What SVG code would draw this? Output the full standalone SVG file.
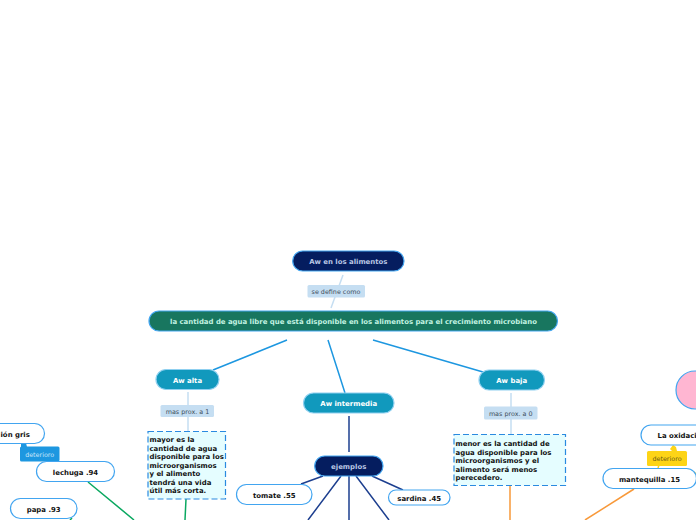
<svg xmlns="http://www.w3.org/2000/svg" width="696" height="520" viewBox="0 0 696 520">
<style>
text{font-family:"DejaVu Sans",Verdana,sans-serif;font-size:6.93px;text-anchor:middle}
.b{font-weight:bold}
.n rect{stroke:#42a5f0;stroke-width:1.2}
.w rect{fill:#fff}
.w text{font-weight:bold;fill:#111}
.t rect{fill:#1199bd;stroke:#8fd0f0}
.t text{fill:#fff;font-weight:bold}
.d rect{fill:#051d5f}
.d text{fill:#b9c7e4;font-weight:bold}
.l rect{fill:#c5def2;stroke:none}
.l text{fill:#3f4f5c;font-size:6.4px}
.x rect{fill:#e5fdff;stroke:#2a8ae0;stroke-dasharray:6 3}
.x text{font-weight:bold;fill:#111;text-anchor:start}
.s{font-size:6.4px}
#connectors path{fill:none;stroke-width:1.5}
#connectors polygon{stroke:none}
</style>
<g id="connectors">
<path d="M343 275L331 308" stroke="#c5def2"/>
<path d="M287 340L213 370M328 340L345 393M373 340L483 372" stroke="#1d97e0"/>
<path d="M188 392V431M511 393V434" stroke="#c5def2"/>
<path d="M349 416V452" stroke="#1d3f8f"/>
<path d="M323 476L301 484M341 476L308 520M349 476V520M356 476L389 520M372 476L403 490" stroke="#1d3f8f"/>
<path d="M186 499L185 520M88 482L134 520M72 518L70 520" stroke="#0aa860"/>
<path d="M510 485V520M634 489L585 520" stroke="#f8993a"/>
<path d="M660 462L658 468M694 472L696 474" stroke="#fdd416"/>
<polygon points="21,443 26,443 27,447 21,447" fill="#1d97e0"/>
<polygon points="673,445 670,449 672,451 677,451 676,447" fill="#fdd416"/>
</g>
<g id="root" class="n d"><rect x="292.7" y="251" width="111.3" height="20" rx="10"/><text x="348.3" y="264">Aw en los alimentos</text></g>
<g id="def" class="n l"><rect x="307.5" y="285" width="57.5" height="12.5" rx="1.5"/><text x="336" y="293.5">se define como</text></g>
<g id="main" class="n"><rect x="149" y="311" width="408.5" height="20" rx="10" fill="#18765f" stroke="#8fd0f0"/><text x="353.500" y="324" class="b" fill="#c3f3e2">la cantidad de agua libre que está disponible en los alimentos para el crecimiento microbiano</text></g>
<g id="alta" class="n t"><rect x="156" y="369.5" width="63" height="20" rx="10"/><text x="187.5" y="382.5">Aw alta</text></g>
<g id="intermedia" class="n t"><rect x="303.5" y="393" width="90.5" height="20" rx="10"/><text x="348.7" y="406">Aw intermedia</text></g>
<g id="baja" class="n t"><rect x="479" y="370" width="65.5" height="20" rx="10"/><text x="511.7" y="383">Aw baja</text></g>
<g id="prox1" class="n l"><rect x="160.5" y="405" width="53.5" height="12" rx="1.5"/><text x="187.5" y="413.5">mas prox. a 1</text></g>
<g id="prox0" class="n l"><rect x="484" y="406.5" width="53.5" height="13" rx="1.5"/><text x="510.7" y="415.5">mas prox. a 0</text></g>
<g id="altaText" class="n x"><rect x="148" y="431.5" width="77.5" height="67.5"/>
<text x="149.5" y="442">mayor es la</text><text x="149.5" y="450.5">cantidad de agua</text><text x="149.5" y="459">disponible para los</text><text x="149.5" y="467.5">microorganismos</text><text x="149.5" y="476">y el alimento</text><text x="149.5" y="484.5">tendrá una vida</text><text x="149.5" y="493">útil más corta.</text></g>
<g id="bajaText" class="n x"><rect x="454" y="434.5" width="111.5" height="51"/>
<text x="455.5" y="446">menor es la cantidad de</text><text x="455.5" y="454.5">agua disponible para los</text><text x="455.5" y="463">microorganismos y el</text><text x="455.5" y="471.5">alimento será menos</text><text x="455.5" y="480">perecedero.</text></g>
<g id="ejemplos" class="n d"><rect x="314.7" y="456" width="68.3" height="20" rx="10"/><text x="348.7" y="468.5">ejemplos</text></g>
<g id="tomate" class="n w"><rect x="236.5" y="484.5" width="75.5" height="20" rx="10"/><text x="274.3" y="497.5">tomate .55</text></g>
<g id="sardina" class="n w"><rect x="388.5" y="490" width="61.5" height="15" rx="7.5"/><text x="419.2" y="500.5">sardina .45</text></g>
<g id="gris" class="n w"><rect x="-30" y="423.5" width="74.5" height="20" rx="10"/><text x="0.5" y="436.5" style="text-anchor:start">ión gris</text></g>
<g id="det1"><rect x="20" y="446.5" width="39.5" height="15" rx="1.5" fill="#1d97e0"/><text x="39.7" y="456.5" fill="#c9e6fa" class="s">deterioro</text></g>
<g id="lechuga" class="n w"><rect x="36.5" y="461.5" width="78" height="20" rx="10"/><text x="75.5" y="474.5">lechuga .94</text></g>
<g id="papa" class="n w"><rect x="10.5" y="498.5" width="66.5" height="20" rx="10"/><text x="43.7" y="511.5">papa .93</text></g>
<g id="oxidacion" class="n w"><rect x="641" y="425" width="90" height="20" rx="10"/><text x="657.5" y="438" style="text-anchor:start">La oxidaci</text></g>
<g id="det2"><rect x="647" y="451" width="40" height="15" rx="1.5" fill="#fdd416"/><text x="667" y="461" fill="#6b5a14" class="s">deterioro</text></g>
<g id="mantequilla" class="n w"><rect x="603" y="468.5" width="93.5" height="20" rx="10"/><text x="649.5" y="481.5">mantequilla .15</text></g>
<g id="pink" class="n"><circle cx="695" cy="390" r="19" fill="#ffb6d2" stroke="#42a5f0" stroke-width="1.2"/></g>
</svg>
